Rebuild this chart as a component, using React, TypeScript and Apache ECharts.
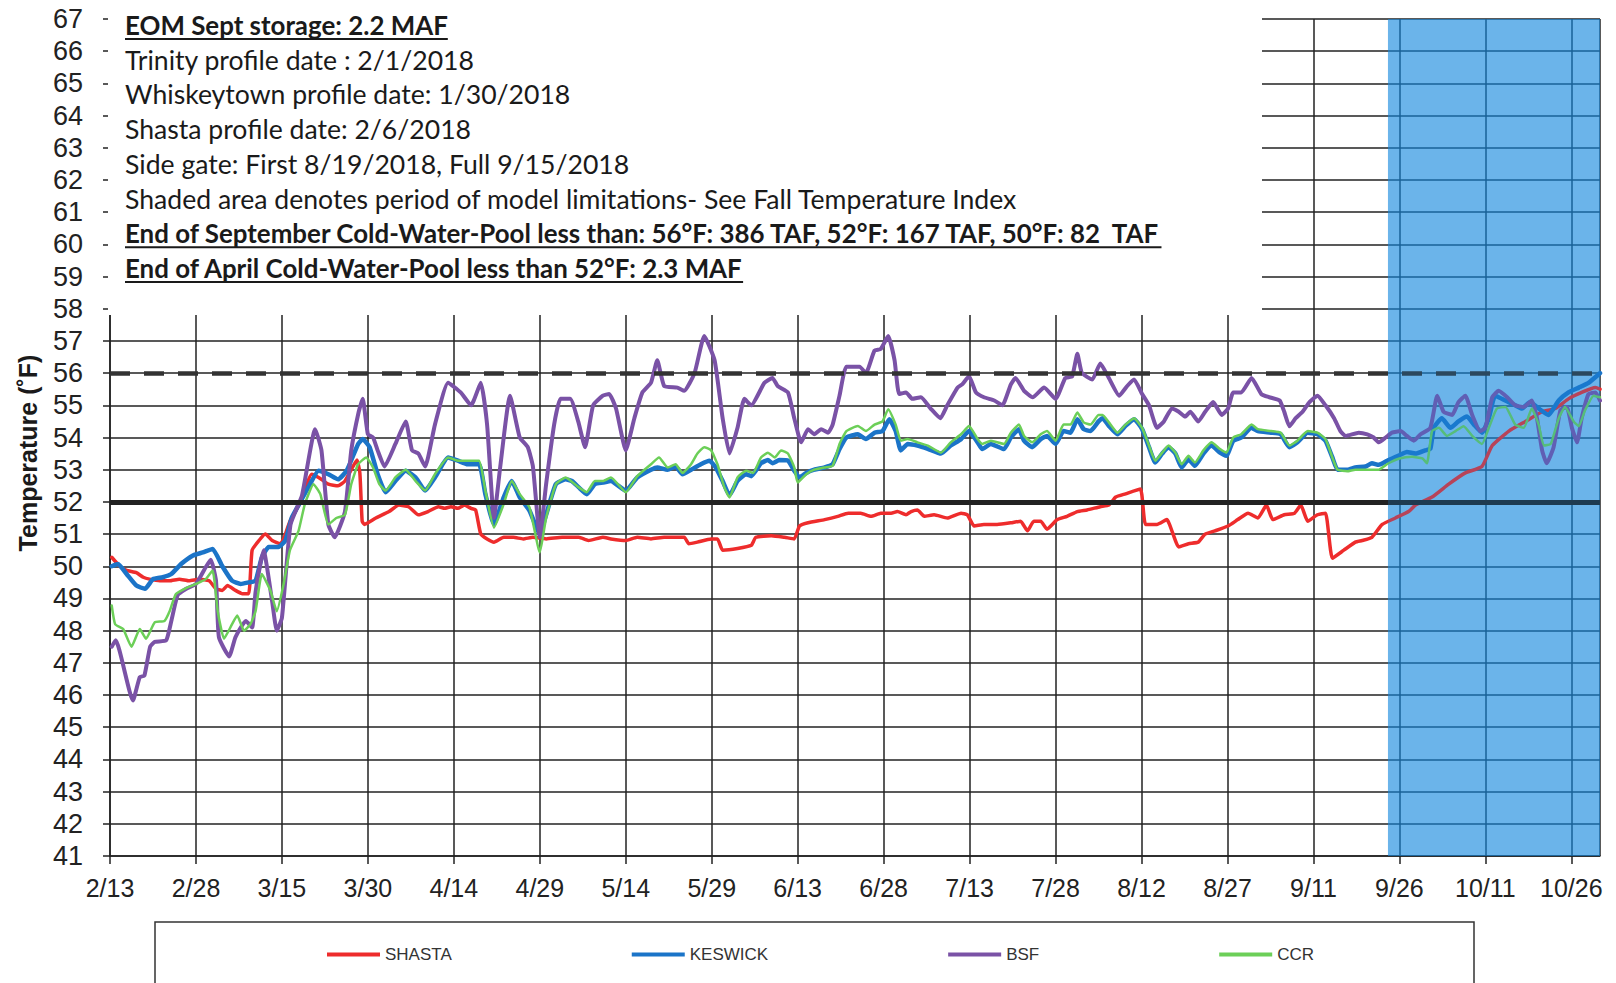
import React, { useEffect, useRef } from "react";
import * as echarts from "echarts";

// ---------- data ----------
const BASE_DATE_UTC = Date.UTC(2018, 1, 13); // day 0 = 2/13/2018
const X_MAX_DAY = 260; // 10/31
const TICK_DAYS = 15;
const SHADE_START_DAY = 223; // start of model-limitation period (~9/24)
const Y_MIN = 41;
const Y_MAX = 67;
const DASHED_LEVEL = 56;
const SOLID_LEVEL = 52;

const SERIES_NAMES = ["SHASTA", "KESWICK", "BSF", "CCR"];
const SERIES_COLORS = ["#ee2c2c", "#1b74c8", "#7a52a6", "#6ccf58"];

// [day since 2/13, temperature °F]
const SHASTA: [number, number][] = [
  [0.3,50.28],[1.7,50.0],[2.9,49.87],[4.6,49.8],[5.8,49.66],[6.9,49.6],[8.7,49.55],[10.4,49.55],[12.1,49.6],[13.8,49.55],[15.6,49.6],[17.3,49.55],[18.5,49.3],[19.6,49.25],[20.5,49.4],[21.9,49.25],[23.1,49.15],[24.2,49.15],[24.8,50.5],[26,50.8],[27.1,51.0],[28.3,50.8],[29.7,50.7],[30.3,50.85],[31.4,51.4],[33.2,51.98],[35.2,52.86],[36.4,52.76],[38.1,52.55],[39.8,52.5],[41,52.65],[42.4,53.1],[43.1,53.3],[43.6,52.9],[44.0,51.4],[44.4,51.3],[46.4,51.5],[48.7,51.7],[50.4,51.9],[52.1,51.85],[53.8,51.6],[55.5,51.7],[57.3,51.85],[58.4,51.8],[59.5,51.85],[60.7,51.8],[61.8,51.9],[63,51.8],[63.8,51.75],[64.7,51.0],[65.8,50.85],[67,50.75],[68.7,50.9],[70.4,50.9],[72.1,50.85],[73.8,50.9],[76.1,50.85],[78.9,50.9],[81.8,50.9],[83.5,50.8],[86,50.9],[87.4,50.85],[90,50.8],[92,50.9],[94.4,50.85],[96.7,50.9],[100.2,50.9],[101,50.7],[102.5,50.75],[104.9,50.85],[106,50.85],[106.9,50.5],[109.5,50.55],[111.9,50.65],[112.7,50.9],[115.4,50.95],[117.7,50.9],[119.4,50.85],[120.3,51.25],[121.8,51.35],[124.7,51.45],[127,51.55],[128.8,51.65],[131,51.65],[132.8,51.55],[134.5,51.65],[136.3,51.65],[137.4,51.7],[138.9,51.6],[139.8,51.7],[140.9,51.75],[142.1,51.55],[143.8,51.6],[146.1,51.5],[148.5,51.65],[149.6,51.6],[150.8,51.25],[152.5,51.3],[154.8,51.3],[157.2,51.35],[158.9,51.4],[160.1,51.1],[161.2,51.4],[162.4,51.4],[163.5,51.15],[165.3,51.45],[167,51.55],[168.8,51.7],[170.5,51.75],[172.8,51.85],[174.3,51.9],[175.5,52.15],[177.2,52.25],[179.8,52.4],[180.7,51.3],[182.7,51.3],[184.4,51.45],[186.5,50.6],[188.2,50.7],[189.9,50.75],[191.1,51.0],[192.8,51.1],[195.1,51.25],[196.8,51.45],[198.6,51.65],[200.3,51.5],[201.8,51.9],[202.9,51.45],[204.9,51.6],[206.7,51.65],[207.8,51.9],[209,51.4],[210.7,51.6],[212.1,51.65],[213.3,50.25],[215.3,50.5],[217.3,50.75],[218.5,50.8],[220.2,50.9],[222,51.3],[224.3,51.5],[226.6,51.7],[227.8,51.9],[230.7,52.15],[233.6,52.55],[236.5,52.9],[239.4,53.1],[241.2,53.75],[244.1,54.2],[247,54.5],[249.9,54.8],[252.2,54.9],[254.5,55.2],[256.8,55.4],[259.2,55.55],[260,55.5]
];

const KESWICK: [number, number][] = [
  [0.3,50.0],[1.4,50.07],[2.9,49.76],[4.6,49.4],[6.1,49.3],[7.5,49.6],[9.2,49.66],[10.7,49.76],[12.4,50.07],[14.4,50.33],[16.2,50.43],[17.9,50.54],[19.6,50.0],[21.3,49.55],[22.8,49.45],[24.2,49.5],[25.4,49.55],[26.5,50.28],[27.7,50.6],[29.4,50.6],[30.6,50.8],[31.7,51.5],[32.9,51.9],[34.6,52.45],[36.4,52.97],[38.1,52.86],[39.8,52.7],[41.3,52.97],[43.3,53.8],[44.1,53.95],[45.3,53.7],[46.7,52.86],[48.1,52.3],[49.8,52.65],[51.6,52.97],[53.3,52.76],[55,52.35],[56.7,52.76],[59,53.38],[60.7,53.28],[62.4,53.17],[64.4,53.17],[65.5,52.24],[67,51.3],[68.7,52.14],[70.1,52.65],[71.5,52.14],[73.2,51.73],[75,51.0],[76.1,51.6],[77.8,52.55],[79.5,52.7],[80.6,52.65],[81.8,52.45],[83.2,52.24],[84.6,52.55],[86,52.6],[87.4,52.65],[90,52.35],[92,52.76],[94.4,53.0],[95.5,53.07],[97.3,53.0],[98.7,53.1],[99.9,52.86],[101.4,53.0],[103.1,53.17],[104.6,53.28],[105.7,53.07],[106.9,52.65],[108.1,52.2],[109.5,52.65],[111,52.86],[111.9,52.8],[113.6,53.2],[114.8,53.3],[115.6,53.2],[116.8,53.3],[118.3,53.28],[119.4,52.97],[120.3,52.76],[121.5,52.9],[122.9,53.0],[124.7,53.07],[126.1,53.17],[127.3,53.64],[128.5,54.0],[130.5,54.1],[131.9,53.95],[133.4,54.15],[134.8,54.2],[136,54.57],[137.1,54.2],[138,53.6],[139.2,53.8],[140.9,53.75],[142.7,53.65],[145,53.5],[146.7,53.75],[148.5,53.95],[149.9,54.2],[151.4,53.85],[152.2,53.64],[153.7,53.8],[156,53.64],[157.2,54.0],[158.6,54.26],[159.5,53.9],[160.9,53.7],[162.4,53.95],[163.5,54.05],[165,53.8],[166.4,54.2],[167.6,54.15],[168.8,54.57],[169.9,54.26],[171.1,54.2],[172.5,54.5],[173.2,54.6],[174.3,54.36],[175.8,54.1],[177.2,54.36],[178.7,54.57],[180.1,54.26],[181.3,53.7],[182.4,53.22],[183.6,53.5],[184.7,53.7],[185.9,53.5],[187,53.07],[188.2,53.33],[189.3,53.12],[190.8,53.5],[192.2,53.75],[193.7,53.53],[194.8,53.43],[196,53.9],[197.4,54.0],[199.2,54.3],[200.3,54.2],[202.6,54.15],[204.3,54.1],[205.8,53.7],[207.2,53.85],[209,54.15],[210.7,54.1],[212.1,53.9],[213.3,53.38],[214.2,53.0],[215.9,53.0],[217.3,53.07],[219.1,53.1],[220.2,53.2],[221.4,53.15],[223.1,53.3],[225,53.45],[226.3,53.55],[227.8,53.5],[229.5,53.6],[230.4,53.65],[231,54.3],[232.4,54.6],[233.9,54.3],[235.3,54.5],[236.8,54.65],[238,54.4],[239.4,54.15],[240.6,54.6],[241.7,55.3],[243.5,55.15],[245.2,55.0],[246.4,54.9],[247.8,55.1],[249.3,54.9],[251,54.7],[252.8,55.15],[254.5,55.4],[256.3,55.55],[258,55.7],[259.7,55.95],[260,56.0]
];

const BSF: [number, number][] = [
  [0.3,47.5],[1,47.7],[4,45.83],[5.2,46.56],[6,46.6],[7,47.5],[7.8,47.65],[9.8,47.7],[10.7,48.3],[11.8,49.1],[13.3,49.3],[15,49.45],[16.7,49.97],[17.6,50.2],[18.5,49.55],[19,47.8],[20.8,47.2],[21.9,47.8],[23.7,48.3],[24.8,48.1],[25.4,49.2],[26.8,50.5],[28.3,48.9],[29.1,48.0],[30,48.4],[31.5,51.3],[33.5,52.2],[35.8,54.26],[36.9,53.6],[38.1,51.3],[39.2,50.9],[41,51.7],[42.1,53.6],[43.4,54.8],[44.1,55.2],[45,54.1],[45.9,54.0],[46.7,53.6],[47.9,53.1],[49.8,53.8],[51.6,54.5],[52.7,53.6],[53.8,53.5],[55,53.1],[56.7,54.4],[59,55.7],[61.2,55.4],[63,55.0],[64.7,55.7],[65.8,54.4],[67,51.5],[68.1,53.1],[69.8,55.3],[71.5,54.0],[72.9,53.7],[73.8,53.1],[75,50.9],[76.1,52.55],[77.5,54.4],[78.6,55.2],[80.3,55.2],[81.7,54.5],[82.9,53.7],[84.3,55.0],[86,55.3],[87.1,55.35],[88.3,54.9],[90,53.6],[91.5,54.6],[92.9,55.4],[94.4,55.7],[95.5,56.4],[96.7,55.6],[99,55.55],[100.2,55.45],[102,56.0],[103.7,57.15],[105.5,56.4],[106.9,54.6],[108.1,53.5],[109.5,54.3],[110.7,55.2],[111.9,55.0],[114.2,55.7],[115.6,55.85],[116.5,55.6],[118.3,55.4],[119.4,54.6],[120.6,53.85],[121.8,54.26],[122.9,54.1],[124.1,54.26],[125.3,54.15],[126.1,54.4],[127.3,55.3],[128.5,56.2],[130.8,56.2],[131.9,56.0],[133.4,56.7],[134.5,56.75],[135.8,57.15],[136.9,56.4],[137.7,55.35],[138.9,55.4],[140,55.2],[141.5,55.25],[143.2,54.9],[144.9,54.6],[146.1,55.0],[147.9,55.55],[148.7,55.65],[149.9,55.9],[151.1,55.4],[152.5,55.25],[154.3,55.15],[155.7,55.0],[157.2,55.65],[158,55.85],[159.5,55.45],[161,55.25],[163,55.55],[165,55.2],[166.7,55.85],[167.9,55.9],[168.8,56.6],[169.6,56.0],[171.4,55.8],[172.8,56.3],[174.3,55.85],[176.1,55.3],[177.5,55.6],[178.7,55.8],[180.1,55.35],[181.3,55.0],[182.7,54.3],[183.9,54.5],[185.3,54.9],[186.5,54.8],[187.6,54.65],[188.5,54.8],[189.9,54.5],[191.1,54.8],[192.5,55.1],[194,54.7],[195.1,54.9],[196,55.4],[197.4,55.4],[199.2,55.85],[200.9,55.35],[202.3,55.25],[204.1,55.15],[204.9,54.8],[205.8,54.35],[206.9,54.6],[208.1,54.8],[209.3,55.1],[210.7,55.3],[212.1,55.0],[213.6,54.6],[214.7,54.2],[215.6,54.05],[217.9,54.15],[219.4,54.1],[220.5,54.0],[221.4,53.85],[222.6,54.0],[223.7,54.15],[225.2,54.2],[226.3,54.05],[227.5,53.9],[228.7,54.1],[230.4,54.3],[231.6,55.3],[232.7,54.8],[234.2,54.7],[235.3,55.1],[236.5,55.3],[237.7,54.7],[239.1,54.2],[240,54.3],[241.2,55.25],[242.3,55.45],[243.8,55.25],[245.2,55.0],[246.7,54.95],[248.1,55.15],[249,54.6],[249.9,53.6],[250.7,53.2],[251.9,53.7],[253.1,54.85],[254.2,54.95],[255.1,54.3],[256,53.85],[256.8,54.6],[258,55.35],[259.2,55.4],[260,55.15]
];

const CCR: [number, number][] = [
  [0.3,48.78],[0.9,48.2],[2.3,48.05],[3.75,47.5],[5.2,48.05],[6.3,47.75],[7.8,48.26],[9.5,48.3],[10.4,48.6],[11.5,49.14],[13.6,49.35],[15,49.45],[16.7,49.6],[17.9,49.87],[18.8,48.6],[19.9,47.75],[21.3,48.2],[22.2,48.47],[23.4,48.0],[24.5,48.2],[25.4,48.6],[26.5,49.76],[28,49.24],[29.1,48.6],[30.3,49.45],[31.4,50.5],[32.9,51.1],[34,51.93],[35.5,52.55],[36.7,52.24],[38.1,51.3],[39.5,51.5],[41,51.6],[42.1,52.55],[43.3,53.17],[44.7,53.38],[45.9,53.07],[47,52.55],[48.1,52.35],[49.8,52.76],[51.6,53.0],[53.3,52.65],[55,52.35],[56.7,52.86],[59,53.38],[60.7,53.28],[62.4,53.28],[64.4,53.28],[65.5,52.35],[67,51.2],[68.7,51.93],[70.1,52.65],[71.5,52.24],[73.2,51.83],[75,50.43],[76.1,51.5],[77.8,52.55],[79.5,52.76],[81.8,52.45],[83.2,52.3],[84.6,52.65],[86,52.65],[87.4,52.76],[90,52.3],[92,52.8],[94.4,53.17],[95.8,53.38],[97.3,53.07],[98.7,53.17],[99.9,52.9],[101.4,53.17],[102.5,53.5],[103.7,53.7],[104.9,53.6],[106,53.17],[107.2,52.45],[108.1,52.14],[109.5,52.76],[111,52.97],[112.2,52.9],[113.6,53.38],[114.8,53.53],[116,53.38],[117.1,53.6],[118.3,53.5],[119.4,53.07],[120,52.6],[121.5,52.86],[122.9,53.0],[124.7,53.07],[126.1,53.12],[127.3,53.8],[128.5,54.2],[130.5,54.36],[131.9,54.2],[133.4,54.4],[134.8,54.5],[135.8,54.88],[137.1,54.4],[138,53.9],[139.2,53.95],[140.9,53.85],[142.7,53.75],[145,53.53],[146.7,53.85],[148.5,54.1],[149.9,54.36],[151.4,53.95],[152.2,53.8],[153.7,53.9],[156,53.8],[157.2,54.15],[158.6,54.4],[159.5,54.05],[160.9,53.85],[162.4,54.1],[163.5,54.2],[165,53.9],[166.4,54.4],[167.6,54.4],[168.8,54.78],[169.9,54.47],[171.1,54.4],[172.5,54.7],[173.2,54.7],[174.3,54.47],[175.8,54.15],[177.2,54.4],[178.7,54.6],[180.1,54.3],[181.3,53.75],[182.4,53.28],[183.6,53.53],[184.7,53.75],[185.9,53.53],[187,53.17],[188.2,53.43],[189.3,53.22],[190.8,53.6],[192.2,53.85],[193.7,53.64],[194.8,53.53],[196,54.0],[197.4,54.1],[199.2,54.4],[200.3,54.26],[202.6,54.2],[204.3,54.15],[205.8,53.75],[207.2,53.9],[209,54.2],[210.7,54.15],[212.1,53.95],[213.3,53.38],[214.2,53.0],[215.9,52.95],[217.3,53.0],[219.7,53.0],[221.4,53.0],[223.1,53.2],[225,53.35],[227.2,53.4],[229,53.35],[229.8,53.2],[230.7,54.2],[231.9,54.3],[233.3,54.05],[234.8,54.2],[236.2,54.35],[237.7,54.05],[239.4,53.8],[240.6,54.3],[242,54.9],[243.5,54.95],[245.2,54.4],[246.7,54.3],[248.1,54.9],[249.3,54.4],[250.2,53.75],[251.4,53.8],[252.8,54.6],[253.9,54.95],[255.4,54.5],[256.3,54.35],[257.4,54.85],[258.9,55.3],[260,55.25]
];

const NOTE_LINES = [
  "EOM Sept storage: 2.2 MAF",
  "Trinity profile date : 2/1/2018",
  "Whiskeytown profile date: 1/30/2018",
  "Shasta profile date: 2/6/2018",
  "Side gate: First 8/19/2018, Full 9/15/2018",
  "Shaded area denotes period of model limitations- See Fall Temperature Index",
  "End of September Cold-Water-Pool less than: 56°F: 386 TAF, 52°F: 167 TAF, 50°F: 82  TAF",
  "End of April Cold-Water-Pool less than 52°F: 2.3 MAF",
];
const NOTE_BOLD = [true, false, false, false, false, false, true, true];
const Y_TITLE = "Temperature (˚F)";

// ---------- helpers ----------
function dayLabel(v: number): string {
  const d = new Date(BASE_DATE_UTC + Math.round(v) * 86400000);
  return `${d.getUTCMonth() + 1}/${d.getUTCDate()}`;
}

function measure(text: string, font: string): number {
  const c = document.createElement("canvas").getContext("2d");
  if (!c) return text.length * 11;
  c.font = font;
  return c.measureText(text).width;
}

const AXIS_FONT = "'Liberation Sans', Arial, sans-serif";
const NOTE_FAMILY = "Lato, 'Noto Sans', sans-serif";
const SHADE_RGB = "20,135,222";

export default function App() {
  const ref = useRef<HTMLDivElement>(null);

  useEffect(() => {
    if (!ref.current) return;
    const chart = echarts.init(ref.current, undefined, { renderer: "svg" });

    const noteX = 125;
    const noteY0 = 25;
    const noteStep = 34.7;
    // font sizes fitted so the longest regular / bold lines span the reference widths
    const regSize = Math.max(18, Math.min(30, (23 * 892) / measure(NOTE_LINES[5], `23px ${NOTE_FAMILY}`)));
    const boldSize = Math.max(18, Math.min(30, (23 * 1036) / measure(NOTE_LINES[6], `bold 23px ${NOTE_FAMILY}`)));

    const graphics: any[] = [
      {
        type: "rect",
        z: 50,
        shape: { x: 108, y: 0, width: 1154, height: 315 },
        style: { fill: "#ffffff", stroke: "none", lineWidth: 0 },
        silent: true,
      },
    ];
    NOTE_LINES.forEach((t, i) => {
      const font = NOTE_BOLD[i] ? `bold ${boldSize.toFixed(1)}px ${NOTE_FAMILY}` : `${regSize.toFixed(1)}px ${NOTE_FAMILY}`;
      const y = noteY0 + i * noteStep;
      graphics.push({
        type: "text",
        z: 51,
        x: noteX,
        y,
        silent: true,
        style: { text: t, font, fill: "#1a1a1a", align: "left", verticalAlign: "middle", textAlign: "left", textVerticalAlign: "middle" },
      });
      if (NOTE_BOLD[i]) {
        const w = measure(t, font);
        graphics.push({
          type: "line",
          z: 51,
          silent: true,
          shape: { x1: noteX, y1: y + 14, x2: noteX + w, y2: y + 14 },
          style: { stroke: "#1a1a1a", lineWidth: 2 },
        });
      }
    });
    graphics.push({
      type: "text",
      z: 51,
      x: 28,
      y: 453,
      rotation: Math.PI / 2,
      silent: true,
      style: {
        text: Y_TITLE,
        font: `bold 25px ${AXIS_FONT}`,
        fill: "#1a1a1a",
        align: "center",
        verticalAlign: "middle",
        textAlign: "center",
        textVerticalAlign: "middle",
      },
    });
    graphics.push({
      type: "rect",
      z: 51,
      silent: true,
      shape: { x: 155, y: 922, width: 1319, height: 100 },
      style: { fill: "none", stroke: "#333", lineWidth: 1.5 },
    });

    const gridLine = { color: "#222", width: 1.5 };
    const dataSets = [SHASTA, KESWICK, BSF, CCR];
    const widths = [3.5, 4.5, 4, 2.5];
    const shadeArea = [[{ xAxis: SHADE_START_DAY, yAxis: Y_MIN }, { xAxis: X_MAX_DAY, yAxis: Y_MAX }]];

    const option: any = {
      animation: false,
      backgroundColor: "#ffffff",
      grid: { left: 110, right: 16, top: 19, bottom: 127, containLabel: false },
      xAxis: {
        type: "value",
        min: 0,
        max: X_MAX_DAY,
        interval: TICK_DAYS,
        axisLine: { show: true, onZero: false, lineStyle: gridLine },
        axisTick: { show: true, length: 8, lineStyle: gridLine },
        axisLabel: {
          formatter: dayLabel,
          fontSize: 25,
          color: "#222",
          fontFamily: AXIS_FONT,
          margin: 19,
          showMaxLabel: false,
        },
        splitLine: { show: true, lineStyle: gridLine },
      },
      yAxis: {
        type: "value",
        min: Y_MIN,
        max: Y_MAX,
        interval: 1,
        axisLine: { show: true, lineStyle: gridLine },
        axisTick: { show: true, length: 7, lineStyle: gridLine },
        axisLabel: { fontSize: 27, color: "#222", fontFamily: AXIS_FONT, margin: 27 },
        splitLine: { show: true, lineStyle: { color: "#222", width: 1.6 } },
      },
      legend: {
        data: SERIES_NAMES,
        left: 327,
        top: 946,
        padding: 0,
        icon: "rect",
        itemWidth: 53,
        itemHeight: 4,
        itemGap: 180,
        textStyle: { fontSize: 17, color: "#333", fontFamily: AXIS_FONT },
      },
      graphic: { elements: graphics },
      series: [
        {
          name: "shade-base",
          type: "line",
          data: [],
          z: 1,
          silent: true,
          markArea: {
            z: 1,
            silent: true,
            itemStyle: { color: `rgba(${SHADE_RGB},0.5)` },
            data: shadeArea,
          },
        },
        ...SERIES_NAMES.map((name, i) => ({
          name,
          type: "line",
          data: dataSets[i],
          symbol: "none",
          smooth: 0.15,
          z: i === 3 ? 3 : 2,
          color: SERIES_COLORS[i],
          lineStyle: { color: SERIES_COLORS[i], width: widths[i], join: "round", cap: "round" },
        })),
        {
          name: "reference",
          type: "line",
          data: [],
          z: 5,
          silent: true,
          markLine: {
            z: 5,
            symbol: "none",
            silent: true,
            label: { show: false },
            data: [
              { yAxis: DASHED_LEVEL, lineStyle: { type: [20, 14], width: 4.5, color: "#333" } },
              { yAxis: SOLID_LEVEL, lineStyle: { type: "solid", width: 5, color: "#222" } },
            ],
          },
        },
        {
          name: "shade-top",
          type: "line",
          data: [],
          z: 10,
          silent: true,
          markArea: {
            z: 10,
            silent: true,
            itemStyle: { color: `rgba(${SHADE_RGB},0.25)` },
            data: shadeArea,
          },
        },
      ],
    };

    chart.setOption(option);
    return () => chart.dispose();
  }, []);

  return (
    <div
      ref={ref}
      style={{ position: "absolute", left: 0, top: 0, width: 1616, height: 983, background: "#fff" }}
    />
  );
}
